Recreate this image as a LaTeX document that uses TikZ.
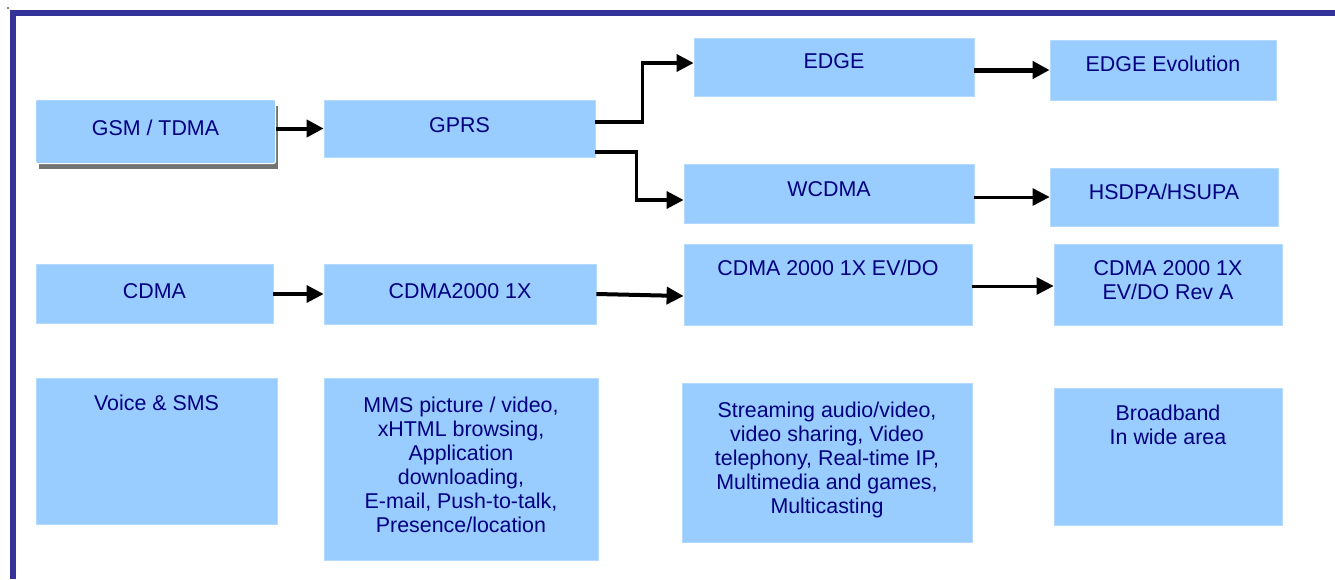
\documentclass[tikz,border=0pt]{standalone}
\usepackage{fontspec}
\setmainfont{Liberation Sans}
\usetikzlibrary{arrows.meta}
\definecolor{boxblue}{HTML}{99CCFF}
\definecolor{boxedge}{HTML}{B4DAFF}
\definecolor{txtnavy}{HTML}{000080}
\definecolor{frameblue}{HTML}{333399}
\tikzset{
  box/.style={rectangle, fill=boxblue, draw=boxedge, line width=0.8pt, inner sep=0pt},
  txt/.style={text=txtnavy, font=\fontsize{21.4}{24}\selectfont, align=center, inner sep=0pt, anchor=north},
  arr/.style={draw=black, line width=#1, -{Triangle[length=17pt,width=17pt]}},
  arr/.default=4pt
}
\newcommand{\bx}[5]{\node[box, minimum width={#4-#2}, minimum height={#5-#3}] (#1) at ({(#2+#4)/2},{(#3+#5)/2}) {};}
\begin{document}
\begin{tikzpicture}[x=1pt,y=-1pt]
\useasboundingbox (0,0) rectangle (1335,579);
\fill[white] (0,0) rectangle (1335,579);
% frame
\fill[black] (8,8) circle (0.8);
\draw[frameblue, line width=5.5pt] (13,579) -- (13,13) -- (1335,13);
% GSM with shadow
\fill[gray!90!black] (38.5,106) rectangle (277.5,169);
\node[box, draw=white, line width=1pt, rounded corners=2pt, minimum width=240, minimum height=64] (gsm) at (155.5,131.5) {};
\bx{gprs}{324}{100}{595}{157}
\bx{edge}{694}{38}{974}{96}
\bx{ee}{1050}{40}{1276}{100}
\bx{wcdma}{684}{164}{974}{223}
\bx{hsdpa}{1050}{168}{1278}{226}
\bx{cdma}{36}{264}{273}{323}
\bx{ctk}{324}{264}{596}{324}
\bx{evdo}{684}{244}{972}{325}
\bx{reva}{1054}{244}{1282}{325}
\bx{voice}{36}{378}{277}{524}
\bx{mms}{324}{378}{598}{560}
\bx{stream}{682}{383}{972}{542}
\bx{bband}{1054}{388}{1282}{525}
% texts
\node[txt] (tgsm) at (gsm.center |- 0,119.5) {GSM / TDMA};
\node[txt] (tgprs) at (gprs.center |- 0,117.5) {GPRS};
\node[txt] (tedge) at (edge.center |- 0,53.5) {EDGE};
\node[txt] (tee) at (ee.center |- 0,55.5) {EDGE Evolution};
\node[txt] (twcdma) at (wcdma.center |- 0,181.5) {WCDMA};
\node[txt] (thsdpa) at (hsdpa.center |- 0,183.5) {HSDPA/HSUPA};
\node[txt] (tcdma) at (cdma.center |- 0,283.5) {CDMA};
\node[txt] (tctk) at (ctk.center |- 0,283.5) {CDMA2000 1X};
\node[txt] (tevdo) at (evdo.center |- 0,259.5) {CDMA 2000 1X EV/DO};
\node[txt] (treva) at (reva.center |- 0,260.5) {CDMA 2000 1X\\EV/DO Rev A};
\node[txt] (tvoice) at (voice.center |- 0,394.5) {Voice \& SMS};
\node[txt] (tmms) at (mms.center |- 0,396.5) {MMS picture / video,\\xHTML browsing,\\Application\\downloading,\\E-mail, Push-to-talk,\\Presence/location};
\node[txt] (tstream) at (stream.center |- 0,401.5) {Streaming audio/video,\\video sharing, Video\\telephony, Real-time IP,\\Multimedia and games,\\Multicasting};
\node[txt] (tbband) at (bband.center |- 0,404.5) {Broadband\\In wide area};
% connectors
\draw[arr=4pt] (gsm.east |- gprs.west) -- (gprs.west);
\draw[arr=3.5pt] ([yshift=6.5pt]gprs.east) -- ++(47,0) |- ([yshift=4pt]edge.west);
\draw[arr=3.5pt] ([yshift=-23.5pt]gprs.east) -- ++(41,0) |- ([yshift=-6.5pt]wcdma.west);
\draw[arr=5pt] (edge.east |- ee.west) -- (ee.west);
\draw[arr=3pt] (wcdma.east |- hsdpa.west) -- (hsdpa.west);
\draw[arr=3.5pt] (cdma.east |- ctk.west) -- (ctk.west);
\draw[arr=4pt] (ctk.east) -- ([yshift=-11.5pt]evdo.west);
\draw[arr=3pt] ([yshift=-1.5pt]evdo.east) -- ([yshift=-1.5pt]reva.west);
\end{tikzpicture}
\end{document}
